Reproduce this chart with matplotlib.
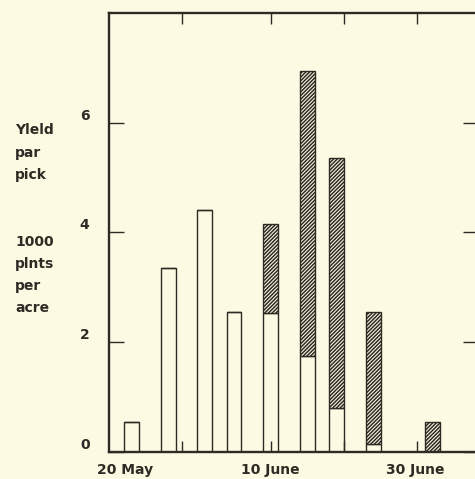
import matplotlib
matplotlib.use("Agg")
import matplotlib.pyplot as plt

# Data: days after 20 May, yield per pick (1000 pints per acre)
pick_day = [0.9, 6.15, 11.2, 15.4, 20.6, 25.8, 29.9, 35.1, 43.5]
open_part = [0.53, 3.34, 4.41, 2.55, 2.53, 1.74, 0.80, 0.14, 0.0]
total = [0.53, 3.34, 4.41, 2.55, 4.15, 6.95, 5.36, 2.55, 0.54]
hatched_part = [t - o for t, o in zip(total, open_part)]

date_label_days = [0, 20.5, 41]
date_labels = ["20 May", "10 June", "30 June"]
minor_tick_days = [8.1, 20.6, 31.0, 41.3]
y_ticks = [0, 2, 4, 6]

bg = "#fcfae3"
ink = "#2e2b25"

plt.rcParams["font.family"] = ["DejaVu Sans"]
plt.rcParams["hatch.linewidth"] = 1.1
plt.rcParams["hatch.color"] = ink

fig = plt.figure(figsize=(4.75, 4.79), dpi=100, facecolor=bg)
ax = fig.add_axes([0.2295, 0.0574, 0.777, 0.9155])
ax.set_facecolor(bg)

width = 2.1
ax.bar(pick_day, open_part, width=width, color=bg, edgecolor=ink, linewidth=1.0)
ax.bar(pick_day, hatched_part, width=width, bottom=open_part, color=bg,
       edgecolor=ink, linewidth=1.0, hatch="/////////")

ax.set_xlim(-2.26, 49.9)
ax.set_ylim(0, 8)

for s in ["left", "bottom", "top", "right"]:
    ax.spines[s].set_linewidth(1.7)
    ax.spines[s].set_color(ink)

ax.set_yticks(y_ticks)
ax.set_yticklabels([str(v) for v in y_ticks])
ax.tick_params(axis="y", which="major", direction="in", length=11, width=1.0,
               color=ink, labelsize=10, labelcolor=ink, pad=14, right=True)
ax.set_xticks(date_label_days)
ax.set_xticklabels(date_labels)
ax.tick_params(axis="x", which="major", length=0, labelsize=10, labelcolor=ink, pad=8)
ax.set_xticks(minor_tick_days, minor=True)
ax.tick_params(axis="x", which="minor", direction="in", length=8, width=1.0,
               color=ink, top=True, bottom=True)
for lab in ax.get_xticklabels() + ax.get_yticklabels():
    lab.set_fontweight("bold")
for lab in ax.get_yticklabels():
    lab.set_verticalalignment("bottom")

ylabel1 = ["Yleld", "par", "pick"]
ylabel2 = ["1000", "plnts", "per", "acre"]
for i, t in enumerate(ylabel1):
    fig.text(15 / 475, 1 - (130 + 22.5 * i) / 479, t, fontsize=10, color=ink,
             va="center", ha="left", fontweight="bold")
for i, t in enumerate(ylabel2):
    fig.text(15 / 475, 1 - (242 + 22 * i) / 479, t, fontsize=10, color=ink,
             va="center", ha="left", fontweight="bold")

fig.savefig("out.png", dpi=100, facecolor=bg)
